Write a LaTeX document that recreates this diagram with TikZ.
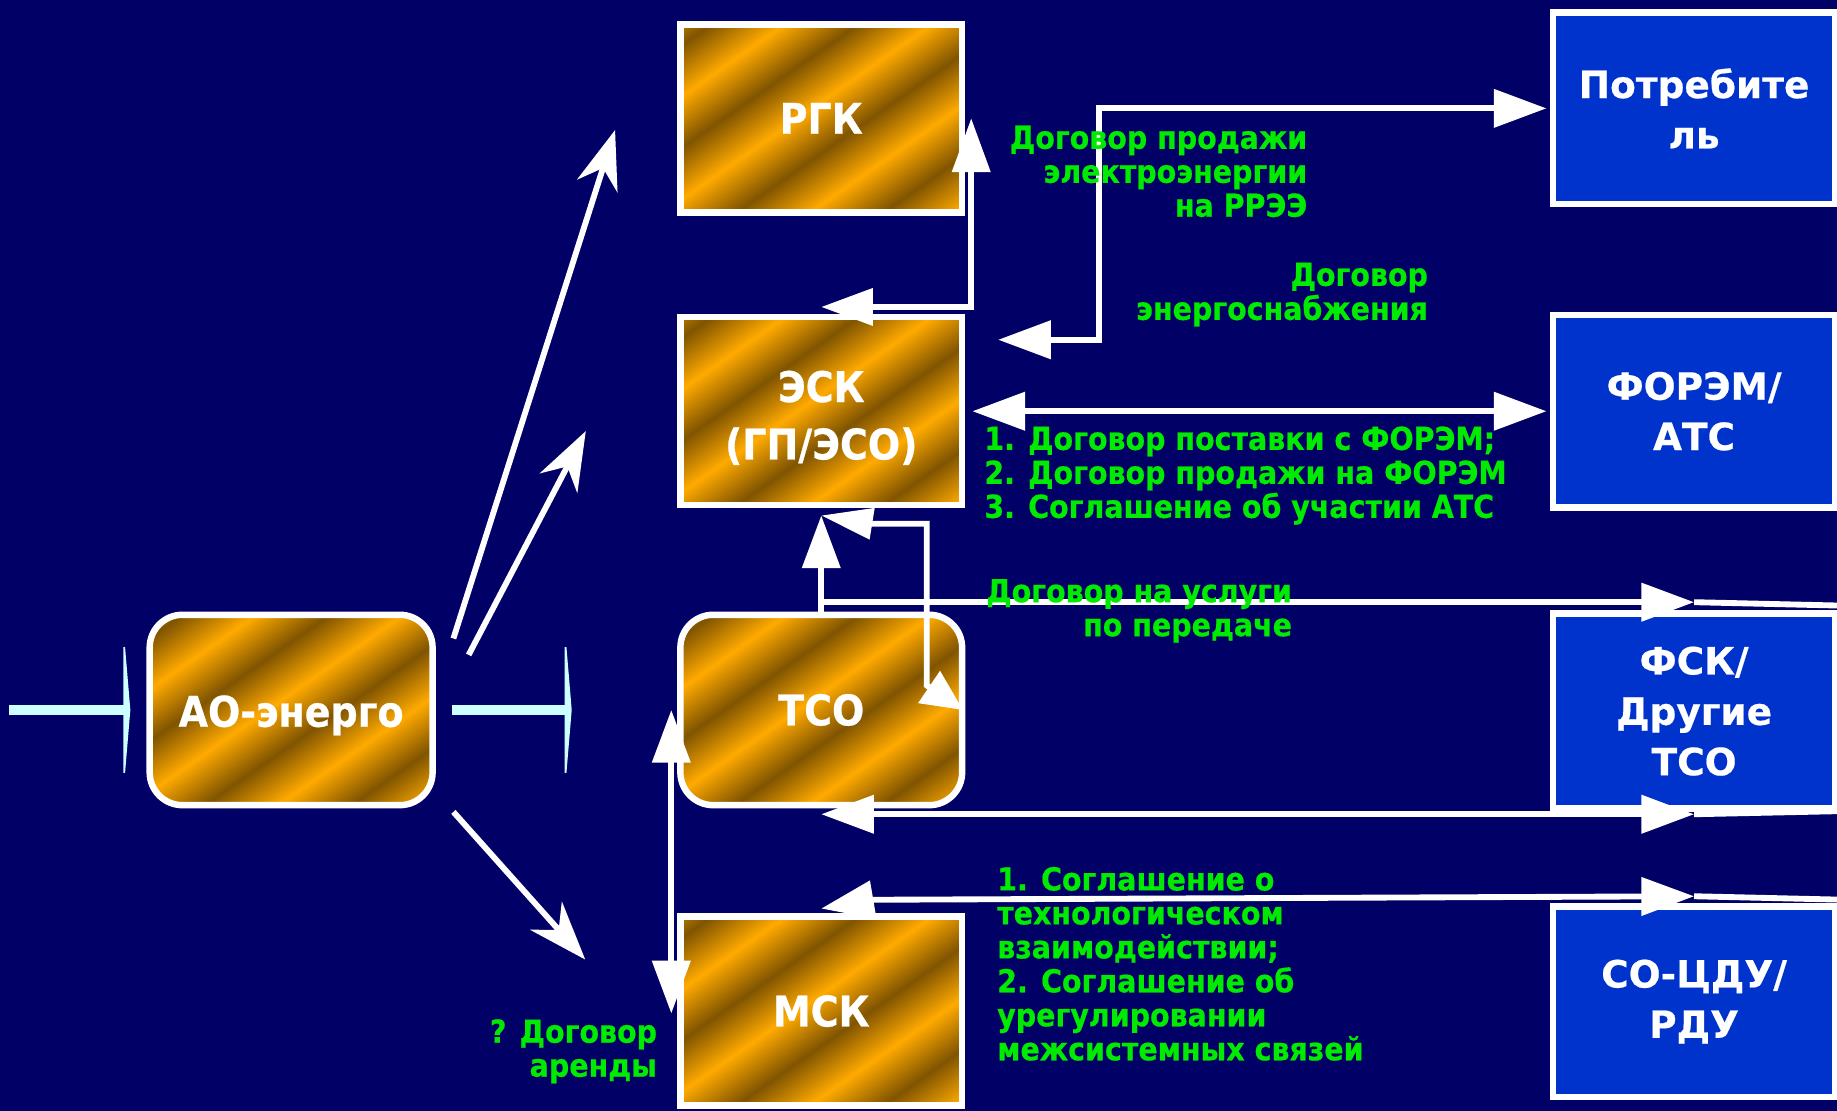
\documentclass[tikz,border=0pt]{standalone}
\usepackage{fontspec}
\setmainfont{DejaVu Sans}
\newfontfamily\condfont{DejaVu Sans}[FakeStretch=0.9, BoldFeatures={FakeBold=0.6}]
\newfontfamily\widefont{DejaVu Sans}[BoldFeatures={FakeBold=0.5}]
\usetikzlibrary{arrows.meta,calc}
\definecolor{bgnavy}{RGB}{0,0,102}
\definecolor{boxblue}{RGB}{0,51,204}
\definecolor{goldlt}{RGB}{255,170,0}
\definecolor{golddk}{RGB}{128,84,0}
\colorlet{goldmid}{golddk!67!goldlt}
\definecolor{labgreen}{RGB}{0,235,0}
\definecolor{cyanln}{RGB}{204,255,255}
\pgfdeclarehorizontalshading{goldstripes}{100bp}{color(0bp)=(goldlt); color(6bp)=(golddk); color(12bp)=(goldlt); color(18bp)=(golddk); color(24bp)=(goldlt); color(30bp)=(golddk); color(36bp)=(goldlt); color(42bp)=(golddk); color(48bp)=(goldlt); color(54bp)=(golddk); color(60bp)=(goldlt); color(66bp)=(golddk); color(72bp)=(goldlt); color(78bp)=(golddk); color(84bp)=(goldlt); color(90bp)=(golddk); color(96bp)=(goldlt); color(100bp)=(goldmid)}
\tikzset{
  goldbox/.style={draw=white, line width=5.5pt, minimum width=240.5pt, minimum height=160.5pt, inner sep=0pt,
    path picture={\shade[shading=goldstripes, shading angle=-55] ($(path picture bounding box.center)+(-150,-150)$) rectangle ($(path picture bounding box.center)+(150,150)$);},
    text=white, font=\condfont\bfseries\fontsize{36}{49}\selectfont, align=center},
  bluebox/.style={draw=white, fill=boxblue, line width=5.5pt, minimum width=240.5pt, minimum height=163pt, inner sep=0pt,
    text=white, font=\widefont\bfseries\fontsize{32}{43}\selectfont, align=center},
  conn/.style={draw=white, line width=5pt},
  cyanline/.style={draw=cyanln, line width=9pt},
  lab/.style={text=labgreen, font=\condfont\bfseries\fontsize{27}{29}\selectfont, inner sep=0pt},
  tri/.tip={Triangle[length=45pt,width=32pt]},
  stl/.tip={Stealth[length=50pt,width=36pt,inset=16pt]}
}
\begin{document}
\begin{tikzpicture}[x=1pt,y=-1pt]
\useasboundingbox (0,0) rectangle (1568,948);
\fill[bgnavy] (0,0) rectangle (1568,948);

% nodes
\node[goldbox, rounded corners=28pt, minimum width=241.5pt, minimum height=162.5pt] (ao) at (248.5,606) {\rule{0pt}{36pt}АО-энерго};
\coordinate (inL) at (8,606);
\coordinate (outR) at (488,606);
\draw[cyanline, -{Triangle[length=6pt,width=143pt]}] (inL) -- ($(ao.west)+(-13.75,0)$);
\draw[cyanline, -{Triangle[length=6pt,width=143pt]}] ($(ao.east)+(14,0)$) -- (outR);

\node[goldbox, minimum height=161.5pt] (msk) at (701,863) {МСК};
\node[bluebox, minimum height=162.5pt] (so) at (1446,855) {СО-ЦДУ/\\РДУ};
\coordinate (soR) at (1575,768);
\draw[conn, tri-tri] ($(msk.north)+(0,-4)$) -- (745,768) -- ($(so.north west)+(123,-6)$) coordinate (soT);
\draw[conn] (soT) -- (soR);
% redraw MSK over the arrow
\node[goldbox, minimum height=161.5pt] at (msk.center) {МСК};

\node[goldbox] (rgk) at (701,101) {РГК};
\node[goldbox] (esk) at (701,351) {\rule{0pt}{38pt}ЭСК\\(ГП/ЭСО)};
\node[goldbox, rounded corners=28pt, minimum height=162.5pt] (tso) at (701,606) {ТСО};

\node[bluebox, minimum height=163.5pt] (potr) at (1446,92.5) {Потребите\\ль};
\node[bluebox, minimum height=164.5pt] (forem) at (1446,351) {ФОРЭМ/\\АТС};
\node[bluebox, minimum height=166.5pt] (fsk) at (1446,607) {ФСК/\\Другие\\ТСО};

% arrows from AO
\coordinate (a1) at (525,111);
\coordinate (a2) at (500,368);
\coordinate (a3) at (499.5,819);
\draw[conn, -stl] ($(ao.north east)+(15,23)$) -- (a1);
\draw[conn, -stl] ($(ao.north east)+(28,37)$) -- (a2);
\draw[conn, -stl] ($(ao.south east)+(15,3)$) -- (a3);

% ESK - RGK
\draw[conn, {Triangle[length=46pt,width=32pt]}-{Triangle[length=44pt,width=31pt]}] ($(rgk.east)+(5,0)$) |- ($(esk.north)+(0,-6)$);
% ESK - Potrebitel
\draw[conn, tri-tri] ($(esk.east)+(28,-61)$) -- ($(esk.east)+(114,-61)$) |- ($(potr.west)+(-3,0)$);
% ESK - FOREM
\draw[conn, tri-tri] ($(esk.east)+(6,0)$) -- ($(forem.west)+(-3,0)$);
% TSO -> ESK
\draw[conn, -tri] (tso.north) -- ($(esk.south)+(0,6)$);
% ESK - TSO elbow
\draw[conn, {Triangle[length=44pt,width=26pt]}-{Triangle[length=35pt,width=32pt]}] ($(esk.south)+(0,6)$) -- (744,447) -- (791,447) -- (791,585) -- ($(tso.east)+(-2,0)$);
% TSO - FSK
\coordinate (fskTR) at (1575,517);
\coordinate (fskBR) at (1575,692.25);
\draw[conn, -tri] ($(tso.north)+(0,-8)$) -- ($(fsk.north west)+(123,-7)$) coordinate (fskT);
\draw[conn] (fskT) -- (fskTR);
\draw[conn, tri-tri] ($(tso.south)+(0,5)$) -- ($(fsk.south west)+(123,2)$) coordinate (fskB);
\draw[conn] (fskB) -- (fskBR);
% TSO - MSK
\draw[conn, tri-tri] ($(tso.west)+(-5,0)$) -- ($(msk.west)+(-5,2)$);

% labels (anchor = baseline of last line)
\node[lab, align=right, anchor=base east] (l1) at (1116,185) {Договор продажи\\электроэнергии\\на РРЭЭ};
\node[lab, align=right, anchor=base east] (l2) at (1219,273) {Договор\\энергоснабжения};
\node[lab, align=left, anchor=base west] (l3) at (840,442) {1. Договор поставки с ФОРЭМ;\\2. Договор продажи на ФОРЭМ\\3. Соглашение об участии АТС};
\node[lab, align=right, anchor=base east] (l4) at (1103,543) {Договор на услуги\\по передаче};
\node[lab, align=left, anchor=base west] (l5) at (851,905) {1. Соглашение о\\технологическом\\взаимодействии;\\2. Соглашение об\\урегулировании\\межсистемных связей};
\node[lab, align=right, anchor=base east] (l6) at (561,919) {? Договор\\аренды};
\end{tikzpicture}
\end{document}
